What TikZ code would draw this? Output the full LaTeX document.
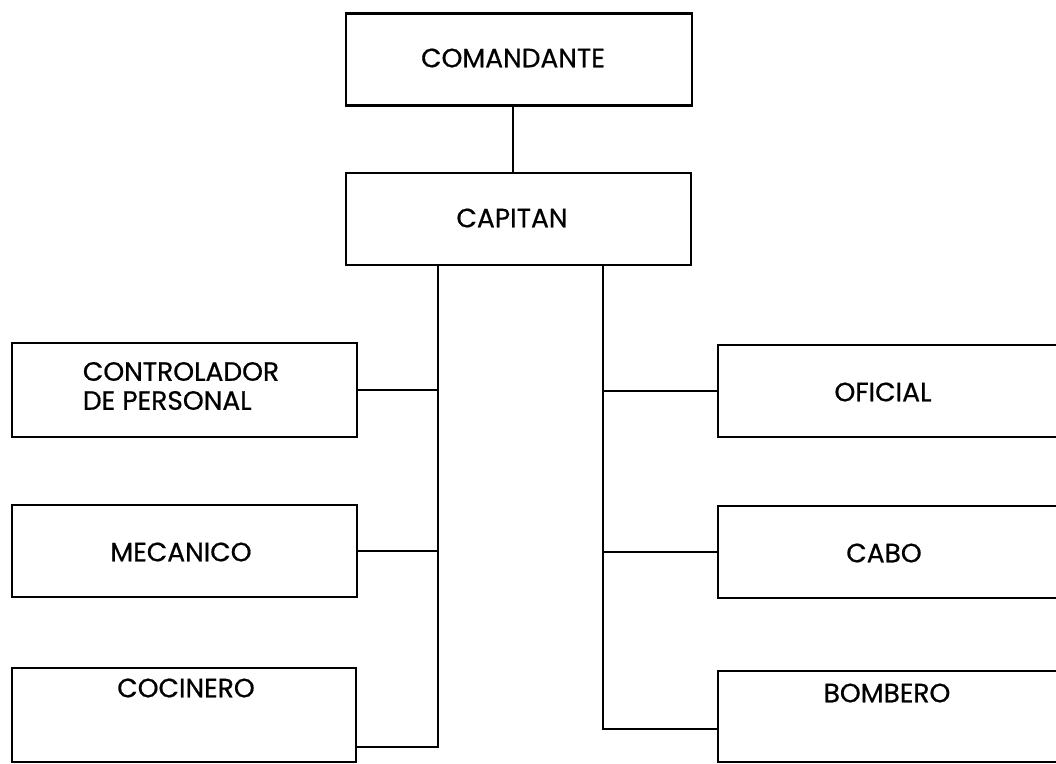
\documentclass[tikz,border=0pt]{standalone}
\usepackage{fontspec}
\setmainfont{Poppins}[FakeBold=0.6]
\begin{document}
\begin{tikzpicture}[x=1pt,y=-1pt,
  box/.style={draw, line width=2.6pt, rectangle, inner sep=0pt, align=left,
    font=\fontsize{26.5}{29}\selectfont},
  lbl/.style={inner sep=0pt, align=center, font=\fontsize{26.5}{29}\selectfont},
  conn/.style={line width=2.6pt}]
\useasboundingbox[fill=white] (0,0) rectangle (1056,763);
\node[box, minimum width=346pt, minimum height=92pt] (com) at (519,59.5) {};
\node[lbl] (comt) at (513,58) {COMANDANTE};
\node[box, minimum width=345pt, minimum height=92pt] (cap) at (518.5,219) {};
\node[lbl] (capt) at (512,218) {CAPITAN};
\node[box, minimum width=345pt, minimum height=94pt] (ctrl) at (184.5,390) {};
\node[lbl, align=left] (ctrlt) at (181,386) {CONTROLADOR\\DE PERSONAL};
\node[box, minimum width=345pt, minimum height=92pt] (mec) at (184.5,551) {};
\node[lbl] (mect) at (181,552) {MECANICO};
\node[box, minimum width=344pt, minimum height=94pt] (coc) at (184,715) {};
\node[lbl] (coct) at (186,688) {COCINERO};
\node[box, minimum width=352pt, minimum height=92pt] (ofi) at (894,391) {};
\node[lbl] (ofit) at (883,392) {OFICIAL};
\node[box, minimum width=352pt, minimum height=92pt] (cab) at (894,552) {};
\node[lbl] (cabt) at (884,553) {CABO};
\node[box, minimum width=352pt, minimum height=91pt] (bom) at (894,716.5) {};
\node[lbl] (bomt) at (887,693) {BOMBERO};
\coordinate (ctop) at ([xshift=-6pt]com.south);
\coordinate (ltop) at (cap.south -| 438,0);
\coordinate (rtop) at (cap.south -| 603,0);
\coordinate (cocE) at (coc.east |- 0,747);
\coordinate (bomW) at (bom.west |- 0,729);
\draw[conn] (ctop) -- (ctop |- cap.north);
\draw[conn] (ltop) |- (cocE);
\draw[conn] (ctrl.east) -- (ctrl.east -| ltop);
\draw[conn] (mec.east) -- (mec.east -| ltop);
\draw[conn] (rtop) |- (bomW);
\draw[conn] (ofi.west) -- (ofi.west -| rtop);
\draw[conn] (cab.west) -- (cab.west -| rtop);
\end{tikzpicture}
\end{document}
